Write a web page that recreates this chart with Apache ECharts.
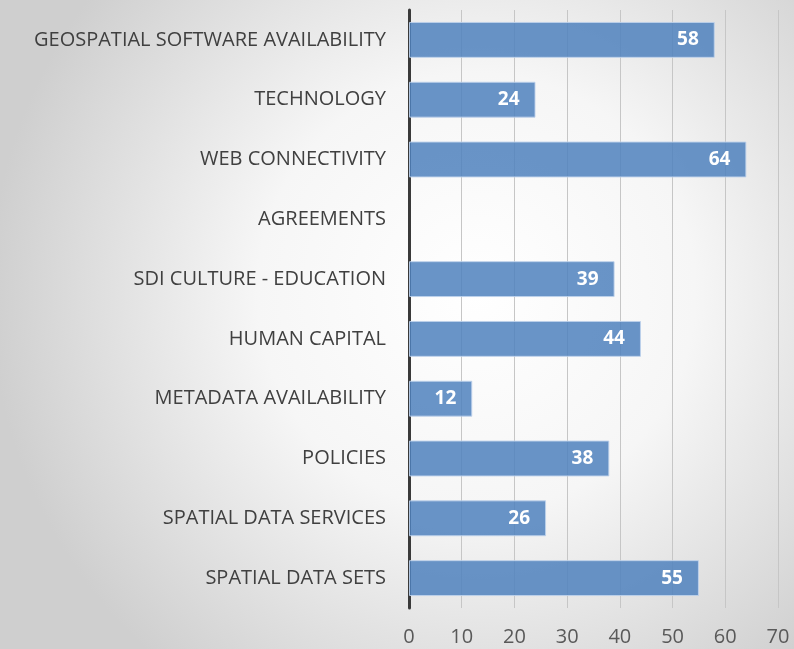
<!DOCTYPE html>
<html>
<head>
<meta charset="utf-8">
<script src="https://cdn.jsdelivr.net/npm/echarts@6/dist/echarts.min.js"></script>
<style>
  html, body { margin: 0; padding: 0; }
  #chart { width: 794px; height: 649px; }
</style>
</head>
<body>
<div id="chart"></div>
<script>
// categories listed top to bottom
const categories = [
  "GEOSPATIAL SOFTWARE AVAILABILITY",
  "TECHNOLOGY",
  "WEB CONNECTIVITY",
  "AGREEMENTS",
  "SDI CULTURE - EDUCATION",
  "HUMAN CAPITAL",
  "METADATA AVAILABILITY",
  "POLICIES",
  "SPATIAL DATA SERVICES",
  "SPATIAL DATA SETS"
];
const values = [58, 24, 64, null, 39, 44, 12, 38, 26, 55];
const xTicks = [0, 70, 10]; // min, max, interval

const chart = echarts.init(document.getElementById("chart"));

chart.setOption({
  backgroundColor: {
    type: "radial",
    x: 0.6,
    y: 0.45,
    r: 0.75,
    colorStops: [
      { offset: 0, color: "#ffffff" },
      { offset: 0.45, color: "#f6f6f6" },
      { offset: 1, color: "#cfcfcf" }
    ]
  },
  animation: false,
  grid: {
    left: 409,
    right: 16,
    top: 10,
    bottom: 41
  },
  xAxis: {
    type: "value",
    min: xTicks[0],
    max: xTicks[1],
    interval: xTicks[2],
    axisLine: { show: false },
    axisTick: { show: false },
    axisLabel: {
      color: "#595959",
      fontSize: 20,
      fontFamily: "Open Sans",
      margin: 19
    },
    splitLine: {
      lineStyle: { color: "#c6c6c6", width: 1 }
    }
  },
  yAxis: {
    type: "category",
    data: categories,
    inverse: true,
    axisLine: {
      lineStyle: { color: "#3a3a3a", width: 3 }
    },
    axisTick: { show: false },
    axisLabel: {
      color: "#404040",
      fontSize: 20,
      fontFamily: "Open Sans",
      margin: 23
    }
  },
  series: [
    {
      type: "bar",
      data: values,
      barCategoryGap: "40%",
      itemStyle: {
        color: "rgba(79,129,189,0.85)",
        borderColor: "rgba(190,210,235,0.9)",
        borderWidth: 1
      },
      label: {
        show: true,
        position: "insideRight",
        distance: 16,
        color: "#ffffff",
        fontSize: 19,
        fontWeight: "bold",
        fontFamily: "Open Sans"
      }
    }
  ]
});
</script>
</body>
</html>
